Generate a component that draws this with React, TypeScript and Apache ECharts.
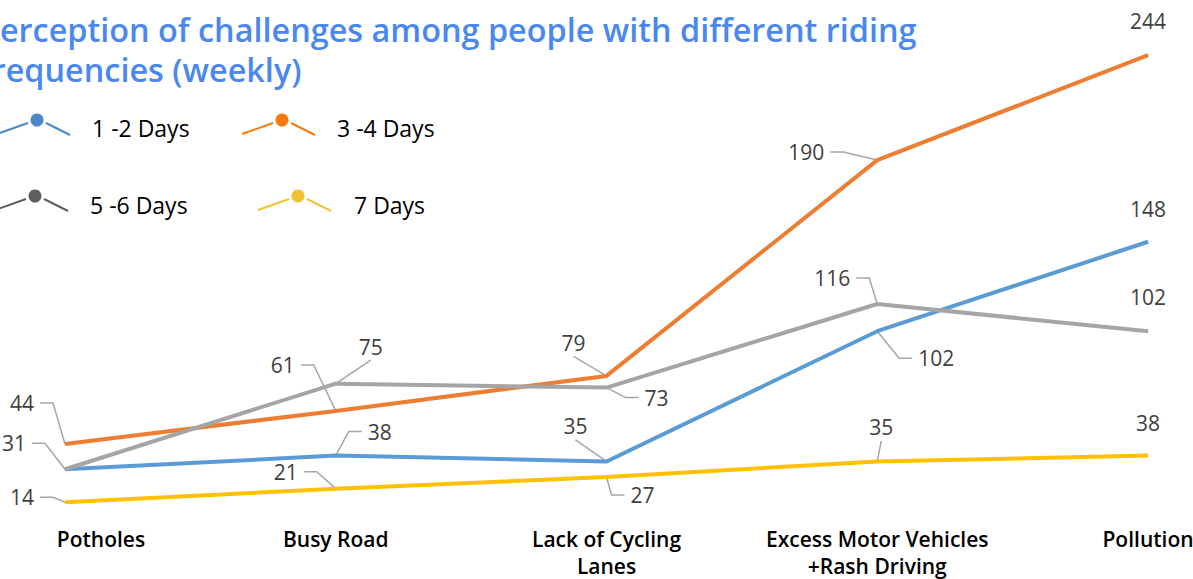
import React, { useEffect, useRef } from "react";
import * as echarts from "echarts";

const titleText = "Perception of challenges among people with different riding\nfrequencies (weekly)";
const categories = ["Potholes", "Busy Road", "Lack of Cycling\nLanes", "Excess Motor Vehicles\n+Rash Driving", "Pollution"];
const seriesNames = ["1 -2 Days", "3 -4 Days", "5 -6 Days", "7 Days"];
const days12 = [31, 38, 35, 102, 148];
const days34 = [44, 61, 79, 190, 244];
const days56 = [31, 75, 73, 116, 102];
const days7 = [14, 21, 27, 35, 38];
const seriesValues = [days12, days34, days56, days7];

// styling / placement (not data)
const lineColors = ["#5B9BD5", "#ED7D31", "#A5A5A5", "#FFC000"];
const legendColors = ["#4A88C8", "#F77B0C", "#5E5E5E", "#F2C233"];
// label centre offsets relative to the point
const labelOffsets: (number[] | null)[][] = [
  [[-51, -26], [44, -24], [-31, -35], [59, 27], [0, -33]],
  [[-43, -41], [-53, -46], [-33, -33], [-71, -8], [0, -34]],
  [null, [35, -37], [50, 10], [-45, -26], [0, -34]],
  [[-43, -5], [-50, -17], [36, 18], [4, -34], [0, -33]],
];
// leader style: L = label left of point (elbow), R = label right (elbow), D = straight, N = none
const leaderKinds: string[][] = [
  ["L", "R", "D", "R", "N"],
  ["L", "L", "D", "L", "N"],
  ["N", "D", "R", "L", "N"],
  ["L", "L", "R", "D", "N"],
];
const legendPos = [
  [37, 120, 92, 128],
  [282, 120, 337, 128],
  [35, 196, 90, 205],
  [298, 196, 354, 205],
];

const labelFont = '21px "Open Sans"';
const axisFont = {
  color: "#000",
  fontFamily: "Open Sans",
  fontWeight: 600,
  fontSize: 21,
  lineHeight: 27,
};

export default function App() {
  const ref = useRef<HTMLDivElement>(null);
  useEffect(() => {
    if (!ref.current) return;
    const chart = echarts.init(ref.current, null, { renderer: "svg" });
    const legendGraphics: any[] = [];
    seriesNames.forEach((name, i) => {
      const [cx, cy, tx, ty] = legendPos[i];
      const c = legendColors[i];
      legendGraphics.push({
        type: "polyline",
        shape: { points: [[cx - 40, cy + 14], [cx - 9, cy + 3]] },
        style: { stroke: c, lineWidth: 2, fill: null },
      });
      legendGraphics.push({
        type: "polyline",
        shape: { points: [[cx + 9, cy + 3], [cx + 33, cy + 15]] },
        style: { stroke: c, lineWidth: 2, fill: null },
      });
      legendGraphics.push({ type: "circle", shape: { cx, cy, r: 6.5 }, style: { fill: c } });
      legendGraphics.push({
        type: "text",
        x: tx,
        y: ty,
        style: {
          text: name,
          fill: "#000",
          font: '23px "Open Sans"',
          verticalAlign: "middle",
          align: "left",
        },
      });
    });
    chart.setOption({
      animation: false,
      backgroundColor: "#fff",
      title: {
        text: titleText,
        left: -25,
        top: 4,
        textStyle: {
          color: "#4A88EE",
          fontFamily: "Open Sans",
          fontWeight: 600,
          fontSize: 32.4,
          lineHeight: 40,
        },
      },
      graphic: legendGraphics,
      grid: {
        left: 65,
        right: 45,
        top: 24,
        bottom: 49.5,
        containLabel: false,
        outerBoundsMode: "none",
      },
      xAxis: {
        type: "category",
        data: categories,
        boundaryGap: false,
        axisLine: { show: false },
        axisTick: { show: false },
        axisLabel: {
          ...axisFont,
          margin: -4,
          interval: 0,
          formatter: (v: string, idx: number) => (idx === 0 ? "{first|" + v + "}" : v),
          rich: {
            first: { ...axisFont, padding: [0, 0, 0, 72] },
          },
        },
      },
      yAxis: {
        type: "value",
        min: 0,
        max: 260,
        show: false,
        splitLine: { show: false },
      },
      series: seriesNames.map((name, i) => ({
        name,
        type: "line",
        data: seriesValues[i].map((v, j) => ({
          value: v,
          label: { show: labelOffsets[i][j] !== null },
        })),
        symbol: "circle",
        symbolSize: 1,
        showSymbol: true,
        itemStyle: { color: lineColors[i] },
        lineStyle: { color: lineColors[i], width: 4 },
        z: i === 2 ? 3 : 2,
        label: {
          show: true,
          position: "top",
          distance: 5,
          color: "#404040",
          fontFamily: "Open Sans",
          fontSize: 21,
        },
        labelLine: { show: false },
        labelLayout: (p: any) => {
          const off = labelOffsets[i][p.dataIndex];
          if (!off) return {};
          // default "top" label centre sits about 16px above the point
          return { dx: off[0], dy: off[1] + 16 };
        },
      })),
    });

    // leader lines, positioned from the library's own scales
    const leaders: any[] = [];
    seriesValues.forEach((vals, i) => {
      vals.forEach((v, j) => {
        const off = labelOffsets[i][j];
        const kind = leaderKinds[i][j];
        if (!off || kind === "N") return;
        const pt = chart.convertToPixel({ xAxisIndex: 0, yAxisIndex: 0 }, [j, v]) as number[];
        const [px, py] = pt;
        const box = new echarts.graphic.Text({ style: { text: String(v), font: labelFont } }).getBoundingRect();
        const hw = box.width / 2;
        const hh = box.height / 2;
        const tcx = px + off[0];
        const tcy = py + off[1];
        let pts: number[][];
        if (kind === "L") {
          const s = tcx + hw + 6;
          const e = Math.min(tcx + hw + 19, px - 2);
          pts = [[s, tcy], [e, tcy], [px, py]];
        } else if (kind === "R") {
          const s = tcx - hw - 6;
          const e = Math.max(tcx - hw - 19, px + 2);
          pts = [[px, py], [e, tcy], [s, tcy]];
        } else {
          pts = [[tcx, tcy + hh + 3], [px, py]];
        }
        leaders.push({
          type: "polyline",
          z: 1,
          shape: { points: pts },
          style: { stroke: "#A6A6A6", lineWidth: 1.5, fill: null },
        });
      });
    });
    chart.setOption({ graphic: [...legendGraphics, ...leaders] });
    return () => chart.dispose();
  }, []);
  return (
    <div
      ref={ref}
      style={{ position: "fixed", left: 0, top: 0, width: 1193, height: 579 }}
    />
  );
}
